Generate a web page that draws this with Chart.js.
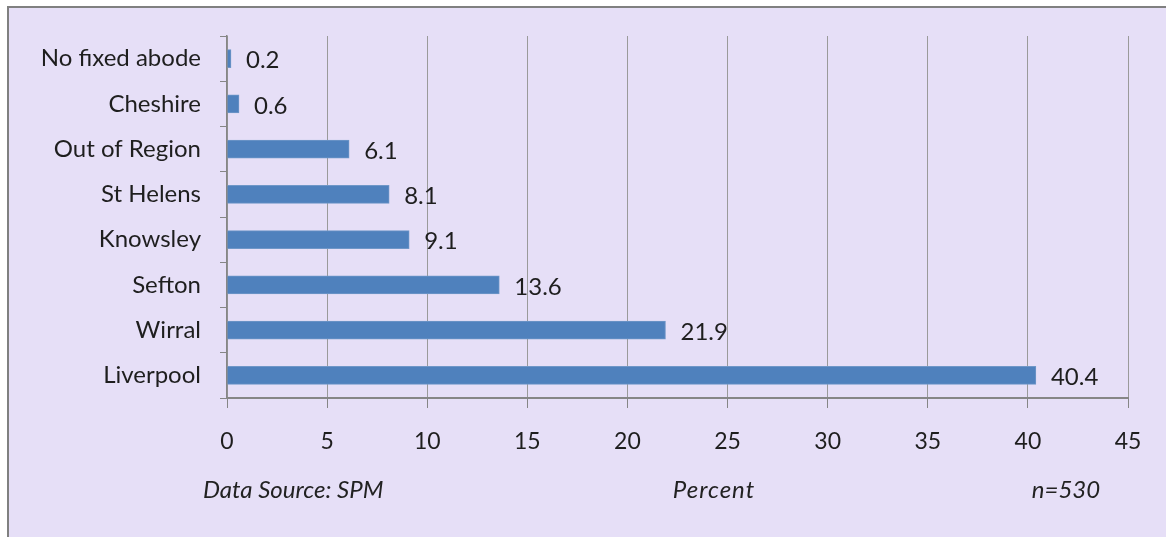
<!DOCTYPE html>
<html>
<head>
<meta charset="utf-8">
<script src="https://cdn.jsdelivr.net/npm/chart.js@4"></script>
<style>
    html, body { margin: 0; padding: 0; background: #fff; }
    body { width: 1166px; height: 537px; position: relative; overflow: hidden; font-family: Lato, "Open Sans", sans-serif; }
    .frame {
        position: absolute; left: 7px; top: 6px; right: -4px; bottom: -4px;
        background: #e6dff7;
        border-left: 2px solid #808080;
        border-top: 2px solid #808080;
    }
    #wrap { position: absolute; left: 0; top: 0; width: 1166px; height: 537px; }
    .note {
        position: absolute; top: 474px; font-size: 24px; font-style: italic; color: #222;
        white-space: nowrap;
    }
</style>
</head>
<body>
<div class="frame"></div>
<div id="wrap"><canvas id="chartArea"></canvas></div>
<div class="note" style="left:203px">Data Source: SPM</div>
<div class="note" style="left:714px; transform:translateX(-50%); letter-spacing:1px">Percent</div>
<div class="note" style="left:1066px; transform:translateX(-50%)">n=530</div>

<script>
document.addEventListener("DOMContentLoaded", () => {

    // Datos
    const categorias = ["No fixed abode", "Cheshire", "Out of Region", "St Helens", "Knowsley", "Sefton", "Wirral", "Liverpool"];
    const porcentajes = [0.2, 0.6, 6.1, 8.1, 9.1, 13.6, 21.9, 40.4];
    const ejeX = [0, 5, 10, 15, 20, 25, 30, 35, 40, 45];

    const COL = {
        bar: "#4f81bd",
        grid: "#9a9a9a",
        axis: "#868686",
        text: "#1e1e1e"
    };

    const FONT = "Lato, 'Open Sans', sans-serif";

    // etiquetas de valor al final de cada barra
    const valueLabels = {
        id: "valueLabels",
        afterDatasetsDraw(chart) {
            const ctx = chart.ctx;
            const meta = chart.getDatasetMeta(0);
            ctx.save();
            ctx.font = "24px " + FONT;
            ctx.fillStyle = COL.text;
            ctx.textAlign = "left";
            ctx.textBaseline = "middle";
            meta.data.forEach((bar, i) => {
                ctx.fillText(porcentajes[i].toFixed(1), bar.x + 15, bar.y + 2);
            });
            ctx.restore();
        }
    };

    new Chart(document.getElementById("chartArea").getContext("2d"), {
        type: "bar",
        data: {
            labels: categorias,
            datasets: [{
                data: porcentajes,
                backgroundColor: COL.bar,
                borderColor: "#6f97c8",
                borderWidth: 1,
                barThickness: 18
            }]
        },
        options: {
            indexAxis: "y",
            responsive: false,
            animation: false,
            devicePixelRatio: 1,
            layout: { padding: { top: 36, right: 38, bottom: 0, left: 0 } },
            plugins: { legend: { display: false }, tooltip: { enabled: false } },
            scales: {
                x: {
                    min: 0, max: 45,
                    afterBuildTicks: (s) => { s.ticks = ejeX.map(v => ({ value: v })); },
                    afterFit: (s) => { s.height = 139; },
                    grid: { color: COL.grid, lineWidth: 1, tickLength: 10, tickColor: COL.axis },
                    border: { color: COL.axis, width: 2 },
                    ticks: { color: COL.text, padding: 20, font: { family: FONT, size: 23 } }
                },
                y: {
                    afterFit: (s) => { s.width = 227; },
                    grid: { offset: true, drawOnChartArea: false, tickLength: 7, tickColor: COL.axis },
                    border: { color: COL.axis, width: 1.5 },
                    ticks: { color: COL.text, padding: 19, font: { family: FONT, size: 24 } }
                }
            }
        },
        plugins: [valueLabels]
    });

});
</script>
<script>
    document.getElementById("chartArea").width = 1166;
    document.getElementById("chartArea").height = 537;
</script>
</body>
</html>
